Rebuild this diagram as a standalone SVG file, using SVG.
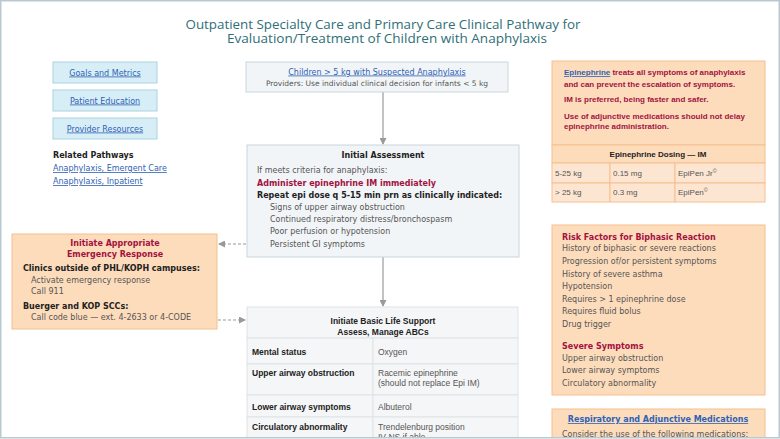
<svg xmlns="http://www.w3.org/2000/svg" width="780" height="439" viewBox="0 0 780 439">
<defs>
<marker id="ah" markerWidth="7" markerHeight="7" refX="6" refY="3.5" orient="auto" markerUnits="userSpaceOnUse"><path d="M0,0 L7,3.5 L0,7 z" fill="#9a9a9a"/></marker>
</defs>
<style>
.v{font-family:"DejaVu Sans",Verdana,sans-serif;font-size:8px;fill:#555}
.vb{font-family:"DejaVu Sans",Verdana,sans-serif;font-size:8px;font-weight:bold;fill:#222}
.vr{font-family:"DejaVu Sans",Verdana,sans-serif;font-size:8px;font-weight:bold;fill:#a3123f}
.lk{font-family:"DejaVu Sans",Verdana,sans-serif;font-size:8px;fill:#2f62b5;text-decoration:underline}
.a{font-family:"Liberation Sans",Arial,sans-serif;font-size:8.5px;fill:#555}
.ab{font-family:"Liberation Sans",Arial,sans-serif;font-size:8.5px;font-weight:bold;fill:#222}
.ar{font-family:"Liberation Sans",Arial,sans-serif;font-size:8px;font-weight:bold;fill:#a3123f}
.ttl{font-family:"Open Sans",Lato,sans-serif;font-size:12.5px;fill:#2e6f78;text-anchor:middle}
.btn{fill:#d8eef6;stroke:#a9d3e0;stroke-width:1}
.gbox{fill:#f2f5f7;stroke:#c9d5db;stroke-width:1}
.obox{fill:#fddcbc;stroke:#f6c08e;stroke-width:1}
.ocell{fill:#fde6d1;stroke:#f6c08e;stroke-width:1}
.tcell{fill:#f5f6f7;stroke:#dfe3e6;stroke-width:1}
.c{text-anchor:middle}
.con{stroke:#9a9a9a;stroke-width:1.2;fill:none}
.dash{stroke-dasharray:3,2}
</style>
<rect x="0" y="0" width="780" height="439" fill="#ffffff"/>

<g id="title">
<text x="383" y="28.5" class="ttl" textLength="395" lengthAdjust="spacingAndGlyphs">Outpatient Specialty Care and Primary Care Clinical Pathway for</text>
<text x="387" y="43" class="ttl" textLength="320" lengthAdjust="spacingAndGlyphs">Evaluation/Treatment of Children with Anaphylaxis</text>
</g>

<g id="goals"><rect class="btn" x="53" y="62" width="104" height="21"/><text class="lk c" x="105" y="75.5">Goals and Metrics</text></g>
<g id="education"><rect class="btn" x="53" y="90" width="104" height="21"/><text class="lk c" x="105" y="103.5">Patient Education</text></g>
<g id="resources"><rect class="btn" x="53" y="118" width="104" height="21"/><text class="lk c" x="105" y="131.5">Provider Resources</text></g>
<g id="related">
<text class="vb" x="53" y="158">Related Pathways</text>
<text class="lk" x="53" y="171">Anaphylaxis, Emergent Care</text>
<text class="lk" x="53" y="184">Anaphylaxis, Inpatient</text>
</g>

<g id="connectors">
<line class="con" x1="383" y1="92" x2="383" y2="144" marker-end="url(#ah)"/>
<line class="con" x1="383" y1="257" x2="383" y2="306" marker-end="url(#ah)"/>
<line class="con dash" x1="246" y1="244" x2="219" y2="244" marker-end="url(#ah)"/>
<line class="con dash" x1="218" y1="320" x2="245" y2="320" marker-end="url(#ah)"/>
</g>

<g id="start">
<rect class="gbox" x="246" y="62" width="262" height="30"/>
<text class="lk c" x="377" y="74.5">Children &gt; 5 kg with Suspected Anaphylaxis</text>
<text class="v c" x="377" y="85.5" style="font-size:7.5px">Providers: Use individual clinical decision for infants &lt; 5 kg</text>
</g>

<g id="assessment">
<rect class="gbox" x="247" y="145" width="272" height="112"/>
<text class="vb c" x="383" y="158">Initial Assessment</text>
<text class="v" x="257" y="173">If meets criteria for anaphylaxis:</text>
<text class="vr" x="257" y="186">Administer epinephrine IM immediately</text>
<text class="vb" x="257" y="198">Repeat epi dose q 5-15 min prn as clinically indicated:</text>
<text class="v" x="270" y="210">Signs of upper airway obstruction</text>
<text class="v" x="270" y="222">Continued respiratory distress/bronchospasm</text>
<text class="v" x="270" y="234">Poor perfusion or hypotension</text>
<text class="v" x="270" y="247">Persistent GI symptoms</text>
</g>

<g id="emergency">
<rect class="obox" x="12" y="234" width="205" height="95"/>
<text class="vr c" x="115" y="246">Initiate Appropriate</text>
<text class="vr c" x="115" y="257">Emergency Response</text>
<text class="vb" x="23" y="271">Clinics outside of PHL/KOPH campuses:</text>
<text class="v" x="31" y="283">Activate emergency response</text>
<text class="v" x="31" y="294">Call 911</text>
<text class="vb" x="23" y="309">Buerger and KOP SCCs:</text>
<text class="v" x="31" y="320">Call code blue — ext. 4-2633 or 4-CODE</text>
</g>

<g id="bls">
<rect class="tcell" x="247" y="307" width="271" height="31"/>
<text class="ab c" x="383" y="324">Initiate Basic Life Support</text>
<text class="ab c" x="383" y="335">Assess, Manage ABCs</text>
<rect class="tcell" x="247" y="338" width="126" height="26"/>
<rect class="tcell" x="373" y="338" width="145" height="26"/>
<text class="ab" x="252" y="355">Mental status</text>
<text class="a" x="378" y="355">Oxygen</text>
<rect class="tcell" x="247" y="364" width="126" height="31"/>
<rect class="tcell" x="373" y="364" width="145" height="31"/>
<text class="ab" x="252" y="376">Upper airway obstruction</text>
<text class="a" x="378" y="376">Racemic epinephrine</text>
<text class="a" x="378" y="386">(should not replace Epi IM)</text>
<rect class="tcell" x="247" y="395" width="126" height="22"/>
<rect class="tcell" x="373" y="395" width="145" height="22"/>
<text class="ab" x="252" y="410">Lower airway symptoms</text>
<text class="a" x="378" y="410">Albuterol</text>
<rect class="tcell" x="247" y="417" width="126" height="30"/>
<rect class="tcell" x="373" y="417" width="145" height="30"/>
<text class="ab" x="252" y="430">Circulatory abnormality</text>
<text class="a" x="378" y="430">Trendelenburg position</text>
<text class="a" x="378" y="440">IV NS if able</text>
</g>

<g id="epinephrine">
<rect class="obox" x="552" y="61" width="213" height="84"/>
<text class="ar" x="564" y="75"><tspan style="fill:#2f62b5;text-decoration:underline">Epinephrine</tspan> treats all symptoms of anaphylaxis</text>
<text class="ar" x="564" y="87">and can prevent the escalation of symptoms.</text>
<text class="ar" x="564" y="102">IM is preferred, being faster and safer.</text>
<text class="ar" x="564" y="119">Use of adjunctive medications should not delay</text>
<text class="ar" x="564" y="129">epinephrine administration.</text>
</g>

<g id="dosing">
<rect class="obox" x="552" y="145" width="213" height="18"/>
<text class="ar c" x="658" y="157" style="fill:#222">Epinephrine Dosing — IM</text>
<rect class="ocell" x="552" y="163" width="58" height="20"/>
<rect class="ocell" x="610" y="163" width="65" height="20"/>
<rect class="ocell" x="675" y="163" width="90" height="20"/>
<rect class="ocell" x="552" y="183" width="58" height="19"/>
<rect class="ocell" x="610" y="183" width="65" height="19"/>
<rect class="ocell" x="675" y="183" width="90" height="19"/>
<text class="a" x="555" y="176" style="font-size:8px">5-25 kg</text>
<text class="a" x="613" y="176" style="font-size:8px">0.15 mg</text>
<text class="a" x="678" y="176" style="font-size:8px">EpiPen Jr<tspan dy="-3" style="font-size:5.5px">©</tspan></text>
<text class="a" x="555" y="195" style="font-size:8px">&gt; 25 kg</text>
<text class="a" x="613" y="195" style="font-size:8px">0.3 mg</text>
<text class="a" x="678" y="195" style="font-size:8px">EpiPen<tspan dy="-3" style="font-size:5.5px">©</tspan></text>
</g>

<g id="risk">
<rect class="obox" x="552" y="225" width="213" height="170"/>
<text class="vr" x="562" y="240">Risk Factors for Biphasic Reaction</text>
<text class="v" x="562" y="251">History of biphasic or severe reactions</text>
<text class="v" x="562" y="264">Progression of/or persistent symptoms</text>
<text class="v" x="562" y="277">History of severe asthma</text>
<text class="v" x="562" y="289">Hypotension</text>
<text class="v" x="562" y="302">Requires &gt; 1 epinephrine dose</text>
<text class="v" x="562" y="314">Requires fluid bolus</text>
<text class="v" x="562" y="327">Drug trigger</text>
<text class="vr" x="562" y="349">Severe Symptoms</text>
<text class="v" x="562" y="361">Upper airway obstruction</text>
<text class="v" x="562" y="373">Lower airway symptoms</text>
<text class="v" x="562" y="386">Circulatory abnormality</text>
</g>

<g id="medications">
<rect class="obox" x="552" y="409" width="213" height="40"/>
<text class="lk c" x="658" y="422" style="font-weight:bold">Respiratory and Adjunctive Medications</text>
<text class="v" x="562" y="437">Consider the use of the following medications:</text>
</g>

<g id="frame">
<rect x="0" y="438" width="780" height="1" fill="#ffffff"/>
<rect x="0.75" y="0.75" width="778.5" height="437" fill="none" stroke="#b9c9d1" stroke-width="1.5"/>
</g>
</svg>
